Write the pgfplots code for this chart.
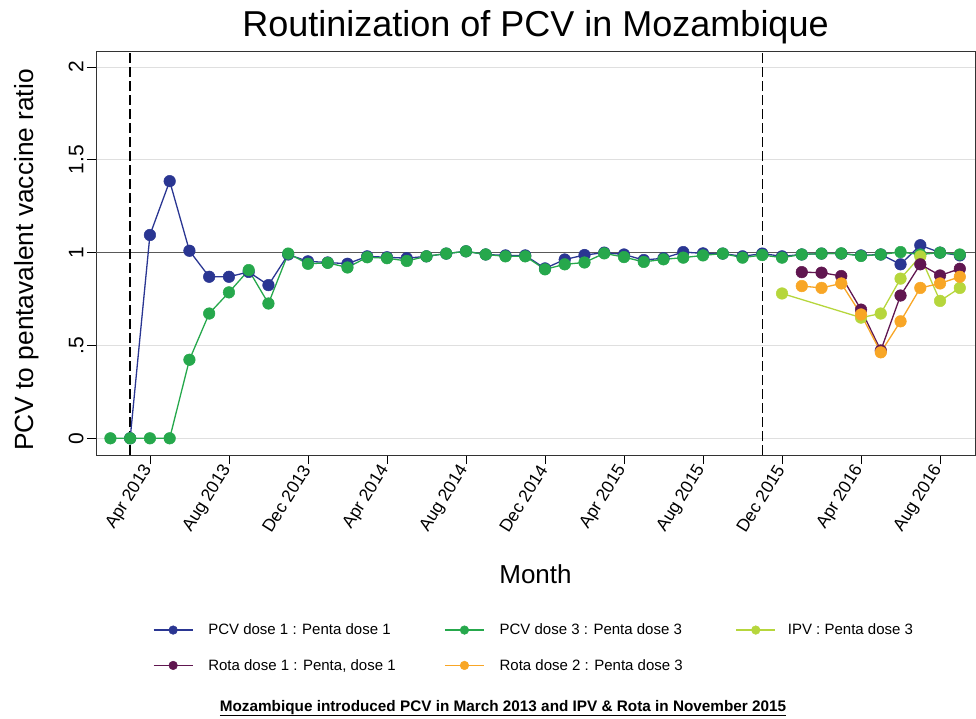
\documentclass[border=0pt]{standalone}
\usepackage{pgfplots}
\pgfplotsset{compat=1.18}
\usepackage{fontspec}
\setmainfont{Liberation Sans}
\definecolor{cblue}{RGB}{42,54,146}
\definecolor{cgreen}{RGB}{38,168,76}
\definecolor{cipv}{RGB}{182,214,60}
\definecolor{cpurple}{RGB}{96,22,80}
\definecolor{corange}{RGB}{248,166,38}
\begin{document}
\begin{tikzpicture}
\useasboundingbox (0,0) rectangle (976pt,-719pt);
\begin{axis}[
  at={(96pt,-455pt)}, anchor=south west,
  scale only axis, width=879pt, height=404pt,
  xmin=0.27, xmax=44.77, ymin=-0.09, ymax=2.086,
  axis line style={black!80, line width=0.8pt},
  xtick={3,7,...,43},
  xticklabels={Apr 2013, Aug 2013, Dec 2013, Apr 2014, Aug 2014, Dec 2014, Apr 2015, Aug 2015, Dec 2015, Apr 2016, Aug 2016},
  ytick={0,0.5,1,1.5,2},
  yticklabels={0,.5,1,1.5,2},
  tick align=outside,
  xtick pos=left, ytick pos=left,
  major tick length=9pt,
  tick style={black, line width=0.8pt},
  xticklabel style={rotate=58, anchor=east, font=\fontsize{17.5}{17.5}\selectfont},
  yticklabel style={rotate=90, anchor=south, font=\fontsize{21}{21}\selectfont},
  ymajorgrids, major grid style={gray!25, line width=0.8pt},
  /pgf/number format/assume math mode=true,
  legend columns=3,
  legend style={at={(rel axis cs:0.06485,-0.418)}, anchor=north west, draw=none, fill=none, inner sep=0pt, outer sep=0pt, font=\fontsize{15}{15}\selectfont, row sep=23pt, nodes={inner sep=0pt}},
  legend cell align=left,
  legend image code/.code={\draw[mark repeat=2,mark phase=2,#1,mark size=4.3pt] plot coordinates {(0pt,0pt) (19.5pt,0pt) (39pt,0pt)};},
  every axis plot/.append style={line width=1.3pt, mark=*, mark size=5.8pt, mark options={solid, line width=0.5pt}},
]
\addplot[gray!70!black, line width=1pt, mark=none, forget plot] coordinates {(0.27,1) (44.77,1)};
\addplot[black, line width=1.4pt, dash pattern=on 10pt off 4pt, mark=none, forget plot] coordinates {(2,-0.09) (2,2.086)};
\addplot[black, line width=1.4pt, dash pattern=on 10pt off 4pt, mark=none, forget plot] coordinates {(34,-0.09) (34,2.086)};

\addplot[cblue] coordinates {
(2,0) (3,1.095) (4,1.385) (5,1.01) (6,0.87) (7,0.87) (8,0.896) (9,0.825) (10,0.99) (11,0.953)
(12,0.947) (13,0.94) (14,0.98) (15,0.975) (16,0.97) (17,0.98) (18,0.995) (19,1.007) (20,0.99) (21,0.985)
(22,0.985) (23,0.915) (24,0.963) (25,0.987) (26,1.0) (27,0.99) (28,0.96) (29,0.97) (30,1.003) (31,0.996)
(32,0.995) (33,0.98) (34,0.995) (35,0.98) (36,0.99) (37,0.995) (38,0.995) (39,0.985) (40,0.99) (41,0.937)
(42,1.04) (43,1.0) (44,0.985)};
\addlegendentry{\hspace*{15pt}\makebox[236pt][l]{PCV dose 1 : Penta dose 1}}

\addplot[cgreen] coordinates {
(1,0) (2,0) (3,0) (4,0) (5,0.423) (6,0.672) (7,0.786) (8,0.906) (9,0.726) (10,0.995) (11,0.94)
(12,0.945) (13,0.92) (14,0.975) (15,0.97) (16,0.955) (17,0.98) (18,0.995) (19,1.007) (20,0.99) (21,0.98)
(22,0.98) (23,0.91) (24,0.937) (25,0.947) (26,0.996) (27,0.976) (28,0.95) (29,0.964) (30,0.973) (31,0.985)
(32,0.995) (33,0.973) (34,0.987) (35,0.973) (36,0.99) (37,0.995) (38,0.996) (39,0.982) (40,0.99) (41,1.003)
(42,0.99) (43,1.0) (44,0.99)};
\addlegendentry{\hspace*{15pt}\makebox[236pt][l]{PCV dose 3 : Penta dose 3}}

\addplot[cipv] coordinates {
(35,0.78) (39,0.65) (40,0.672) (41,0.86) (42,0.98) (43,0.74) (44,0.81)};
\addlegendentry{\hspace*{12pt}IPV : Penta dose 3}

\addplot[cpurple] coordinates {
(36,0.895) (37,0.892) (38,0.874) (39,0.693) (40,0.473) (41,0.769) (42,0.937) (43,0.877) (44,0.913)};
\addlegendentry{\hspace*{15pt}\makebox[236pt][l]{Rota dose 1 : Penta, dose 1}}

\addplot[corange] coordinates {
(36,0.82) (37,0.81) (38,0.834) (39,0.667) (40,0.463) (41,0.63) (42,0.81) (43,0.834) (44,0.87)};
\addlegendentry{\hspace*{15pt}\makebox[236pt][l]{Rota dose 2 : Penta dose 3}}
\end{axis}
\node[anchor=base, font=\fontsize{36}{36}\selectfont] at (535.5pt,-36.5pt) {Routinization of PCV in Mozambique};
\node[rotate=90, anchor=base, font=\fontsize{26.3}{26}\selectfont] at (33pt,-260pt) {PCV to pentavalent vaccine ratio};
\node[anchor=base, font=\fontsize{26}{26}\selectfont] at (535.5pt,-583pt) {Month};
\node[anchor=base, font=\fontsize{15.3}{16}\selectfont\bfseries] at (503pt,-711pt) {\underline{Mozambique introduced PCV in March 2013 and IPV \& Rota in November 2015}};
\end{tikzpicture}
\end{document}
